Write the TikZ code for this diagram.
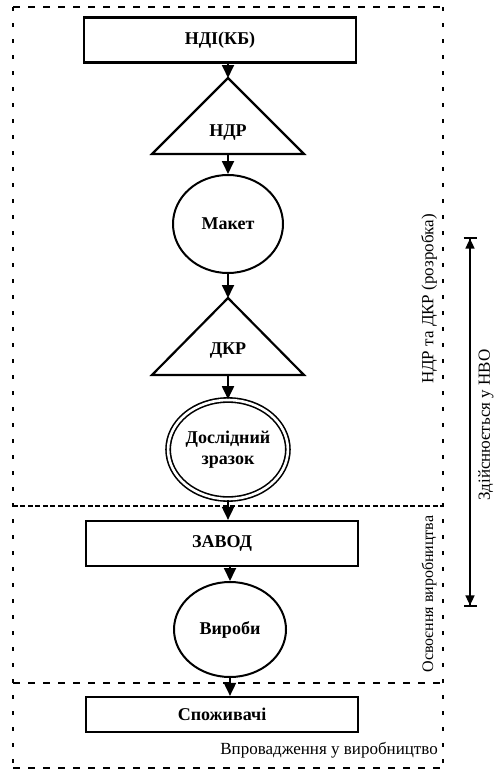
\documentclass[tikz,border=0pt]{standalone}
\usepackage{fontspec}
\setmainfont{Liberation Serif}
\usetikzlibrary{arrows.meta,shapes.geometric}

\begin{document}
\begin{tikzpicture}[x=1pt,y=-1pt,
  lbl/.style={font=\bfseries\fontsize{18}{21}\selectfont, align=center, inner sep=0pt},
  box/.style={lbl, draw, line width=2.2pt, minimum width=272pt},
  oval/.style={lbl, draw, ellipse, line width=2pt},
  tri/.style={line width=2.2pt, line join=miter},
  flow/.style={line width=1.8pt, -{Triangle[length=13pt,width=12pt]}},
  hdash/.style={line width=2.6pt, dash pattern=on 7pt off 8pt},
  mdash/.style={line width=2.6pt, dash pattern=on 5pt off 2pt on 5pt off 3pt},
  vdot/.style={line width=2.8pt, dash pattern=on 4pt off 12pt},
  side/.style={font=\fontsize{17}{20}\selectfont, inner sep=0pt}
]
\useasboundingbox (0,0) rectangle (493,771);

% dashed frames of the three stages
\draw[hdash] (13,7) -- (443,7);
\draw[vdot] (13,7) -- (13,768);
\draw[vdot] (443,7) -- (443,768);
\draw[mdash] (13,506) -- (443,506);
\draw[hdash] (13,683) -- (443,683);
\draw[hdash] (13,768) -- (443,768);

% flow elements
\node[box, minimum height=45pt] (ndi) at (220,40) {НДІ(КБ)};

\coordinate (ndrtop) at (228,78);
\coordinate (ndrbase) at (228,154);
\draw[tri] (152,154) -- (ndrtop) -- (304,154) -- cycle;
\node[lbl] (ndr) at (228,133) {НДР};

\node[oval, minimum width=110pt, minimum height=98pt] (maket) at (228,224) {Макет};

\coordinate (dkrtop) at (228,298);
\coordinate (dkrbase) at (228,375);
\draw[tri] (152,375) -- (dkrtop) -- (304,375) -- cycle;
\node[lbl] (dkr) at (228,351) {ДКР};

\node[oval, line width=1.6pt, double, double distance=2.6pt,
      minimum width=114pt, minimum height=99pt] (zr) at (228,449.5)
      {Дослідний\\зразок};

\node[box, minimum height=45pt] (zavod) at (222,543.5) {ЗАВОД};

\node[oval, minimum width=112pt, minimum height=95pt] (virobi) at (230,629.5) {Вироби};

\node[box, minimum height=35pt] (spoz) at (222,714.5) {Споживачі};

% connectors
\draw[flow] (ndi.south -| ndrtop) -- (ndrtop);
\draw[flow] (ndrbase) -- (maket.north);
\draw[flow] (maket.south) -- (dkrtop);
\draw[flow] (dkrbase) -- (zr.north);
\draw[flow] (zr.south) -- (zavod.north -| zr.south);
\draw[flow] (zavod.south -| virobi.north) -- (virobi.north);
\draw[flow] (virobi.south) -- (spoz.north -| virobi.south);

% stage captions
\node[side, rotate=90] (capa) at (429,299) {НДР та ДКР (розробка)};
\node[side, rotate=90, font=\fontsize{16}{19}\selectfont] (capb) at (429,594) {Освоєння виробництва};
\node[side, anchor=east] (capc) at (438,750) {Впровадження у виробництво};

% span carried out at the research institution
\coordinate (nvoA) at (470,237);
\coordinate (nvoB) at (470,607);
\draw[line width=1.6pt,
      {Bar[width=13pt]Triangle[length=10pt,width=9pt]}-{Triangle[length=10pt,width=9pt]Bar[width=13pt]}]
      (nvoA) -- (nvoB);
\node[side, rotate=90] (nvo) at (486,425) {Здійснюється у НВО};
\end{tikzpicture}
\end{document}
